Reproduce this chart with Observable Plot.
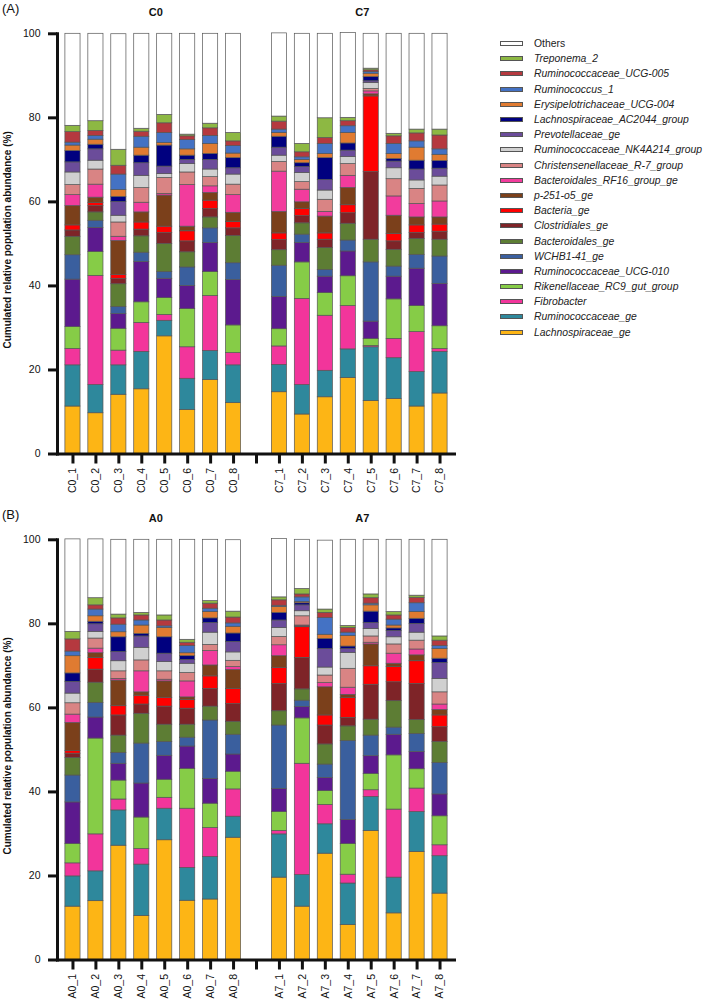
<!DOCTYPE html>
<html><head><meta charset="utf-8">
<script src="https://cdn.jsdelivr.net/npm/d3@7"></script>
<script src="https://cdn.jsdelivr.net/npm/@observablehq/plot@0.6"></script>
<style>
body{margin:0;background:#fff;font-family:"Liberation Sans",Arial,sans-serif;}
#wrap{position:relative;width:709px;height:1003px;overflow:hidden;background:#fff;}
.panel{position:absolute;left:0;}
.plab{position:absolute;left:2px;font-size:13px;color:#111;}
#legend{position:absolute;left:500px;top:36px;}
.li{height:15.2px;display:flex;align-items:center;font-size:10.4px;font-style:italic;white-space:nowrap;color:#222;}
.sw{width:21px;height:3px;border:1px solid #555;margin-right:11px;flex:none;}
</style></head><body><div id="wrap"></div>
<script>
// Sample names (order: C0, C7, A0, A7)
const samplesC0 = ["C0_1","C0_2","C0_3","C0_4","C0_5","C0_6","C0_7","C0_8"];
const samplesC7 = ["C7_1","C7_2","C7_3","C7_4","C7_5","C7_6","C7_7","C7_8"];
const samplesA0 = ["A0_1","A0_2","A0_3","A0_4","A0_5","A0_6","A0_7","A0_8"];
const samplesA7 = ["A7_1","A7_2","A7_3","A7_4","A7_5","A7_6","A7_7","A7_8"];

// Genera, bottom of stack first
const genera = ["Lachnospiraceae_ge","Ruminococcaceae_ge","Fibrobacter","Rikenellaceae_RC9_gut_group",
  "Ruminococcaceae_UCG-010","WCHB1-41_ge","Bacteroidales_ge","Clostridiales_ge","Bacteria_ge","p-251-o5_ge",
  "Bacteroidales_RF16_group_ge","Christensenellaceae_R-7_group","Ruminococcaceae_NK4A214_group","Prevotellaceae_ge",
  "Lachnospiraceae_AC2044_group","Erysipelotrichaceae_UCG-004","Ruminococcus_1","Ruminococcaceae_UCG-005","Treponema_2","Others"];
const colors = ["#FDB515","#2E889C","#F2359B","#86CC47","#5C1A8E","#3A5F9E","#5D7D34","#7E2428","#FF0000","#7B401B",
  "#F23C9D","#D98484","#D0D0D0","#6B4C9A","#00007F","#E07B31","#4472C4","#B5393F","#8DB843","#FFFFFF"];

// Values (%), 32 samples each: C0_1..8, C7_1..8, A0_1..8, A7_1..8
const lachnospiraceae_ge = [11.3,9.7,14.1,15.4,28.0,10.5,17.6,12.1, 14.7,9.4,13.5,18.1,12.6,13.1,11.3,14.4, 12.7,14.0,27.2,10.5,28.5,14.1,14.4,29.1, 19.6,12.7,25.3,8.3,30.7,11.1,25.7,15.8];
const ruminococcaceae_ge = [9.8,6.7,7.0,8.9,3.7,7.4,6.9,9.0, 6.5,7.0,6.3,6.8,12.8,9.7,8.2,9.9, 7.2,7.1,8.4,12.2,7.5,7.8,10.1,5.0, 10.3,7.5,7.0,9.9,8.1,8.5,9.5,8.9];
const fibrobacter = [3.9,26.0,3.5,6.9,1.4,7.5,13.1,2.9, 4.4,20.5,13.1,10.3,0.3,4.6,9.5,0.7, 3.1,8.8,2.6,3.7,2.6,14.1,6.9,6.5, 0.8,26.5,4.6,2.1,1.6,16.2,5.6,2.6];
const rikenellaceae = [5.2,5.7,5.2,4.9,4.0,9.1,5.7,6.6, 4.1,8.7,5.4,7.1,1.7,9.4,6.2,5.4, 4.6,22.8,4.5,7.5,4.3,9.5,5.8,4.2, 4.5,10.8,3.3,7.3,3.9,12.9,4.6,6.9];
const ucg010 = [11.3,5.7,3.5,9.6,4.6,5.5,6.9,10.8, 7.7,4.6,3.9,5.9,4.1,5.4,8.9,10.1, 9.9,5.0,4.0,8.1,5.7,5.3,5.9,4.1, 5.5,2.7,3.1,5.7,4.2,4.9,4.1,5.2];
const wchb141 = [5.8,1.7,1.7,2.2,1.6,4.4,3.5,4.0, 7.4,2.0,1.6,2.6,14.1,2.4,3.3,6.5, 6.4,3.5,2.6,9.5,3.3,2.1,13.9,4.7, 15.1,1.5,3.2,18.8,4.9,1.7,4.3,7.5];
const bacteroidales_ge = [4.4,2.0,5.4,3.9,6.7,3.6,2.6,6.5, 3.7,2.7,5.2,4.0,5.4,4.0,3.8,4.0, 4.2,4.8,4.1,7.1,4.1,3.1,3.3,3.1, 3.4,2.7,4.8,3.5,3.8,6.3,3.3,5.0];
const clostridiales_ge = [1.5,1.5,1.3,1.6,2.6,2.6,2.0,1.8, 2.4,1.7,2.0,2.5,16.1,2.0,1.4,1.9, 1.0,3.1,4.8,2.2,4.3,3.8,4.2,4.2, 6.5,7.5,4.5,2.0,8.3,4.5,8.6,3.5];
const bacteria_ge = [1.2,0.7,0.9,1.7,1.5,2.4,2.0,1.5, 1.6,1.7,1.5,1.9,18.0,1.8,1.8,1.7, 0.6,2.8,2.2,2.1,2.1,2.1,3.0,3.6, 3.8,7.3,2.4,4.8,4.4,3.6,5.4,2.8];
const p251o5 = [4.6,1.3,8.1,2.4,7.4,1.1,1.8,2.2, 5.1,1.6,4.0,4.1,0.5,4.3,1.9,1.7, 6.7,1.1,6.1,0.8,3.9,0.6,2.6,4.5, 2.8,0.2,6.7,0.7,5.2,0.8,1.4,1.3];
const rf16 = [2.6,3.1,1.0,2.3,0.4,9.9,1.6,4.2, 9.6,3.0,1.1,2.9,0.7,4.6,3.2,3.8, 2.0,1.1,0.4,5.0,0.4,3.8,3.4,0.7, 2.6,0.2,1.0,1.7,0.4,2.4,1.4,1.3];
const christensenellaceae = [2.4,3.6,3.4,3.5,3.8,3.0,2.2,2.5, 2.3,1.8,2.9,2.8,0.6,4.1,3.6,3.8, 2.7,2.4,1.8,2.6,2.0,2.0,1.5,1.5, 2.0,2.2,1.8,4.5,1.5,2.2,2.1,2.9];
const nk4a214 = [3.0,2.1,1.6,2.9,0.9,2.0,1.8,2.4, 1.5,2.2,2.2,1.7,1.4,2.6,2.0,2.1, 2.3,1.6,2.4,3.0,2.2,2.2,2.9,2.0, 2.1,1.2,1.9,3.8,1.8,1.7,1.9,3.2];
const prevotellaceae = [2.4,2.7,3.3,3.0,1.8,1.0,2.3,1.5, 1.9,1.4,2.5,1.5,0.4,1.6,2.6,1.9, 2.8,1.8,2.2,2.7,2.0,0.9,2.3,2.5, 1.8,1.4,4.4,0.9,1.4,1.5,2.1,3.8];
const ac2044 = [2.7,1.1,1.2,1.8,5.0,1.0,1.4,2.4, 2.6,0.9,5.2,1.7,1.0,0.6,2.1,1.8, 2.0,0.6,3.5,0.6,3.9,0.9,1.1,2.0, 1.8,0.5,2.4,0.6,2.7,0.6,1.2,1.0];
const erysipelotrichaceae = [1.3,1.2,1.6,1.9,0.6,1.5,2.4,1.1, 0.9,0.8,1.0,2.5,0.8,1.2,3.1,1.5, 4.1,1.3,1.2,2.0,2.2,0.7,1.5,1.6, 1.4,0.3,1.0,2.5,1.5,0.7,1.6,2.3];
const ruminococcus1 = [0.7,0.9,3.7,2.6,2.4,2.2,1.9,1.8, 0.8,0.6,2.4,1.6,0.4,2.4,1.5,1.3, 1.1,1.6,1.8,1.2,0.4,1.7,0.8,0.8, 0.3,1.1,4.0,0.8,0.4,1.4,2.1,0.7];
const ucg005 = [2.5,1.2,2.1,1.2,2.3,0.9,1.8,1.1, 1.9,1.2,1.4,1.2,0.4,1.8,1.9,3.3, 2.9,1.0,1.5,1.2,1.4,0.8,1.2,1.4, 1.3,0.7,1.2,1.1,1.3,1.0,1.3,1.3];
const treponema2 = [1.5,2.3,3.8,0.7,2.0,0.4,1.1,2.0, 1.2,2.0,4.7,0.8,0.4,0.6,0.9,1.4, 1.8,1.7,0.9,0.6,1.2,0.7,0.6,1.4, 0.7,1.3,0.8,0.5,0.9,0.8,0.5,1.0];
const others = [21.9,20.8,27.5,22.6,19.3,24.0,21.4,23.6, 19.8,26.2,20.1,20.2,8.3,23.8,22.8,22.8, 22.0,14.0,17.8,17.4,18.0,23.8,14.6,17.0, 13.9,11.7,16.4,20.5,13.0,17.2,13.3,23.0];

const series = [lachnospiraceae_ge,ruminococcaceae_ge,fibrobacter,rikenellaceae,ucg010,wchb141,bacteroidales_ge,
  clostridiales_ge,bacteria_ge,p251o5,rf16,christensenellaceae,nk4a214,prevotellaceae,ac2044,erysipelotrichaceae,
  ruminococcus1,ucg005,treponema2,others];
const allSamples = [...samplesC0,...samplesC7,...samplesA0,...samplesA7];
const yTicks = [0,20,40,60,80,100];

const FONT = '"Liberation Sans", Arial, sans-serif';

function panel(groupA, groupB, titleA, titleB) {
  const names = [...groupA, ...groupB];
  const slots = [...groupA, " ", ...groupB];
  const rows = [];
  genera.forEach((g, gi) => names.forEach(s => {
    rows.push({sample: s, genus: g, value: series[gi][allSamples.indexOf(s)]});
  }));
  return Plot.plot({
    width: 470, height: 500,
    marginTop: 33.3, marginBottom: 46.5, marginLeft: 57, marginRight: 16,
    style: {fontFamily: FONT, fontSize: "10.5px", background: "transparent", color: "#111"},
    x: {type: "band", domain: slots, range: [61, 451], paddingInner: 0.34, paddingOuter: 0.17, round: false, label: null},
    y: {domain: [0, 100], label: null},
    color: {domain: genera, range: colors},
    marks: [
      Plot.barY(rows, {x: "sample", y: "value", fill: "genus", stroke: "#555", strokeWidth: 0.7, order: null}),
      Plot.axisY({ticks: yTicks, tickSize: 9, strokeWidth: 3, tickPadding: 8, fontSize: 10.5, label: null}),
      Plot.axisX({tickSize: 10, strokeWidth: 3, tickRotate: -90, tickPadding: 4, fontSize: 10.5, label: null,
        tickFormat: d => d.trim()}),
      Plot.frame({anchor: "left", strokeWidth: 3}),
      Plot.frame({anchor: "bottom", strokeWidth: 3}),
      Plot.text([{x: groupA[3], t: titleA}, {x: groupB[3], t: titleB}],
        {x: "x", text: "t", frameAnchor: "top", dx: 14, dy: -26, fontWeight: "bold", fontSize: 11}),
      Plot.text(["Cumulated relative population abundance (%)"],
        {frameAnchor: "left", dx: -50, dy: -4, rotate: -90, textAnchor: "middle", fontWeight: "bold", fontSize: 10})
    ]
  });
}

const wrap = document.getElementById("wrap");
const pA = panel(samplesC0, samplesC7, "C0", "C7");
pA.classList.add("panel"); pA.style.top = "0px";
wrap.appendChild(pA);
const pB = panel(samplesA0, samplesA7, "A0", "A7");
pB.classList.add("panel"); pB.style.top = "506px";
wrap.appendChild(pB);

const la = document.createElement("div"); la.className = "plab"; la.style.top = "1px"; la.textContent = "(A)"; wrap.appendChild(la);
const lb = document.createElement("div"); lb.className = "plab"; lb.style.top = "507px"; lb.textContent = "(B)"; wrap.appendChild(lb);

// Legend: top of stack first
const legend = document.createElement("div"); legend.id = "legend";
for (let i = genera.length - 1; i >= 0; i--) {
  const item = document.createElement("div"); item.className = "li";
  const sw = document.createElement("div"); sw.className = "sw"; sw.style.background = colors[i];
  const tx = document.createElement("span"); tx.textContent = genera[i];
  if (genera[i] === "Others") tx.style.fontStyle = "normal";
  item.appendChild(sw); item.appendChild(tx); legend.appendChild(item);
}
wrap.appendChild(legend);
</script></body></html>
